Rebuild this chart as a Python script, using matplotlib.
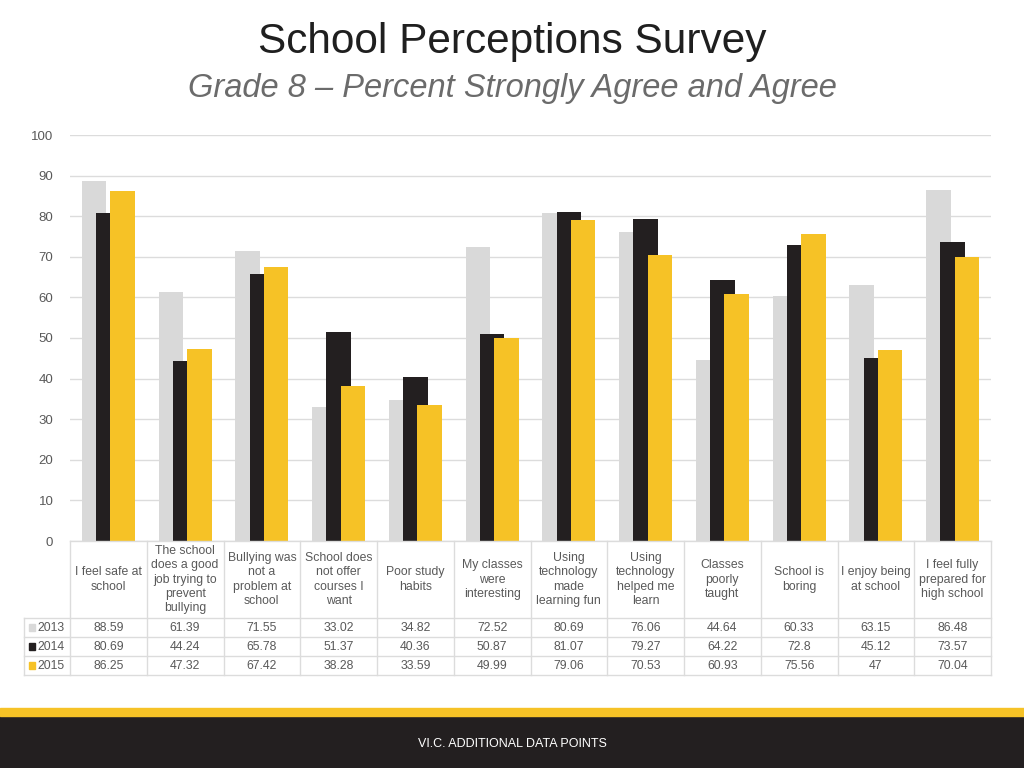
import matplotlib.pyplot as plt
from matplotlib.patches import Rectangle
import numpy as np

# data
categories = ['I feel safe at\nschool',
              'The school\ndoes a good\njob trying to\nprevent\nbullying',
              'Bullying was\nnot a\nproblem at\nschool',
              'School does\nnot offer\ncourses I\nwant',
              'Poor study\nhabits',
              'My classes\nwere\ninteresting',
              'Using\ntechnology\nmade\nlearning fun',
              'Using\ntechnology\nhelped me\nlearn',
              'Classes\npoorly\ntaught',
              'School is\nboring',
              'I enjoy being\nat school',
              'I feel fully\nprepared for\nhigh school']
years = ['2013', '2014', '2015']
vals_2013 = [88.59, 61.39, 71.55, 33.02, 34.82, 72.52, 80.69, 76.06, 44.64, 60.33, 63.15, 86.48]
vals_2014 = [80.69, 44.24, 65.78, 51.37, 40.36, 50.87, 81.07, 79.27, 64.22, 72.8, 45.12, 73.57]
vals_2015 = [86.25, 47.32, 67.42, 38.28, 33.59, 49.99, 79.06, 70.53, 60.93, 75.56, 47, 70.04]

colors = ['#d9d9d9', '#231f20', '#f6c226']
txt_col = '#595959'
grid_col = '#dcdcdc'

plt.rcParams['font.family'] = ['Liberation Sans', 'DejaVu Sans']

W, H = 1024, 768
fig = plt.figure(figsize=(W / 100, H / 100), dpi=100)

def px(l, t, r, b):
    return [l / W, 1 - b / H, (r - l) / W, (b - t) / H]

# bars
ax = fig.add_axes(px(70, 135, 991, 541))
x = np.arange(len(categories))
series = [vals_2013, vals_2014, vals_2015]
offs = [-0.186, 0, 0.186]
for k in range(3):
    ax.bar(x + offs[k], series[k], width=0.32, color=colors[k], zorder=2 + k)
ax.set_xlim(-0.5, len(categories) - 0.5)
ax.set_ylim(0, 100)
ax.set_yticks(np.arange(0, 101, 10))
ax.yaxis.grid(True, color=grid_col, lw=1, zorder=0)
ax.set_axisbelow(True)
for s in ax.spines.values():
    s.set_visible(False)
ax.tick_params(axis='y', length=0, pad=12, labelsize=9.5, labelcolor=txt_col)
ax.tick_params(axis='x', length=0, labelbottom=False)

# data table under the chart
tx = fig.add_axes(px(24, 541, 991, 675))
left = -0.5 - 46 / 76.75
tx.set_xlim(left, len(categories) - 0.5)
tx.set_ylim(675, 541)
tx.axis('off')
lc = dict(color=grid_col, lw=1, clip_on=False)
row_y = [541, 618, 637, 656, 675]
tx.plot([-0.5, len(categories) - 0.5], [541, 541], **lc)
for yy in row_y[1:]:
    tx.plot([left, len(categories) - 0.5], [yy, yy], **lc)
for i in range(len(categories) + 1):
    tx.plot([i - 0.5, i - 0.5], [541, 675], **lc)
tx.plot([left, left], [618, 675], **lc)

for i, c in enumerate(categories):
    tx.text(i, 579.5, c, ha='center', va='center', fontsize=8.8,
            color=txt_col, linespacing=1.25)

row_labels = [[f'{v:g}' for v in vals] for vals in series]
for r in range(3):
    yc = (row_y[r + 1] + row_y[r + 2]) / 2
    for i in range(len(categories)):
        tx.text(i, yc, row_labels[r][i], ha='center', va='center',
                fontsize=8.8, color=txt_col)
    tx.add_patch(Rectangle((left + 5 / 76.75, yc - 3.5), 6.5 / 76.75, 7,
                           color=colors[r], clip_on=False))
    tx.text(left + 13 / 76.75, yc, years[r], ha='left', va='center',
            fontsize=8.8, color=txt_col)

# titles
fig.text(0.5, 1 - 42 / H, 'School Perceptions Survey', ha='center', va='center',
         fontsize=30.5, color='#1f1f1f')
fig.text(0.5, 1 - 88 / H, 'Grade 8 \u2013 Percent Strongly Agree and Agree', ha='center',
         va='center', fontsize=23.5, style='italic', color='#6b6b6b')

# footer band
fig.patches.append(Rectangle((0, 0), 1, (768 - 716) / H, transform=fig.transFigure,
                             color='#231f20', zorder=0))
fig.patches.append(Rectangle((0, (768 - 716) / H), 1, 8 / H, transform=fig.transFigure,
                             color='#f6c226', zorder=0))
fig.text(0.5, 1 - 744 / H, 'VI.C. ADDITIONAL DATA POINTS', ha='center', va='center',
         fontsize=9, color='white')

fig.savefig('out.png', dpi=100)
